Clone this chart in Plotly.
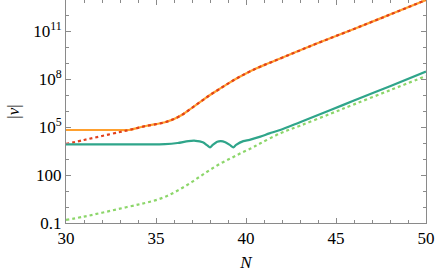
import plotly.graph_objects as go

# ---- data ----
N_orange = [30, 31, 32, 33, 33.5, 34, 34.5, 35, 35.5, 36, 36.5, 37, 37.5, 38, 38.5, 39, 39.5, 40, 40.5, 41, 41.5,
            42, 42.8, 44, 46, 48, 50]
v_orange = [6.5e4, 6.5e4, 6.5e4, 6.5e4, 6.5e4, 8.9e4, 1.2e5, 1.5e5, 2.0e5, 3.16e5, 6.3e5, 1.58e6, 4.0e6, 1.0e7,
            2.3e7, 5.2e7, 1.12e8, 2.24e8, 4.2e8, 7.4e8, 1.26e9, 2.14e9, 5.0e9, 1.78e10, 1.35e11, 1.07e12, 8.7e12]

N_red = [30, 31, 32, 33, 33.5, 34, 34.5, 35, 35.5, 36, 36.5, 37, 37.5, 38, 38.5, 39, 39.5, 40, 40.5, 41, 41.5,
         42, 42.8, 44, 46, 48, 50]
v_red = [8.7e3, 1.55e4, 2.75e4, 4.9e4, 6.5e4, 8.9e4, 1.2e5, 1.5e5, 2.0e5, 3.16e5, 6.3e5, 1.58e6, 4.0e6, 1.0e7,
         2.3e7, 5.2e7, 1.12e8, 2.24e8, 4.2e8, 7.4e8, 1.26e9, 2.14e9, 5.0e9, 1.78e10, 1.35e11, 1.07e12, 8.7e12]

N_teal = [30, 34, 35.5, 36.2, 36.8, 37.2, 37.6, 37.85, 38.0, 38.15, 38.4, 38.6, 38.85, 39.1, 39.3, 39.45, 39.85,
          40.2, 40.8, 41.3, 41.9, 43, 44.7, 46, 48, 50]
v_teal = [8.3e3, 8.3e3, 8.5e3, 1.0e4, 1.32e4, 1.38e4, 1.12e4, 7.1e3, 5.4e3, 7.6e3, 1.2e4, 1.32e4, 1.12e4, 7.6e3,
          5.4e3, 7.6e3, 1.32e4, 1.58e4, 2.5e4, 4.0e4, 6.5e4, 2.0e5, 1.15e6, 4.5e6, 3.55e7, 2.9e8]

N_green = [30, 31, 32, 33, 34, 34.5, 35, 35.5, 36, 36.5, 37, 37.5, 38, 38.6, 39.2, 39.7, 40.3, 40.8, 41.9, 43,
           44.7, 46, 48, 50]
v_green = [0.155, 0.25, 0.44, 0.79, 1.41, 1.9, 2.7, 4.3, 8.0, 16.5, 37, 89, 209, 537, 1175, 2290, 4790, 9550,
           4.0e4, 1.2e5, 6.8e5, 2.6e6, 2.0e7, 1.55e8]

y_tickvals = [0.1, 100, 1e5, 1e8, 1e11]
y_ticktext = ["0.1", "100", "10<sup>5</sup>", "10<sup>8</sup>", "10<sup>11</sup>"]
x_tickvals = [30, 35, 40, 45, 50]
y_minor = [1, 10, 1e3, 1e4, 1e6, 1e7, 1e9, 1e10, 1e12]

FONT = "Liberation Serif"
fig = go.Figure()
fig.add_trace(go.Scatter(x=N_orange, y=v_orange, mode="lines",
                         line=dict(color="#FFA02E", width=2.2, shape="spline", smoothing=1.0)))
fig.add_trace(go.Scatter(x=N_red, y=v_red, mode="lines",
                         line=dict(color="#E2401C", width=2.2, dash="dot", shape="spline", smoothing=1.0)))
fig.add_trace(go.Scatter(x=N_teal, y=v_teal, mode="lines",
                         line=dict(color="#2FA58A", width=2.2, shape="spline", smoothing=0.8)))
fig.add_trace(go.Scatter(x=N_green, y=v_green, mode="lines",
                         line=dict(color="#8CD66A", width=2.2, dash="dot", shape="spline", smoothing=1.0)))

axis_common = dict(showgrid=False, zeroline=False, showline=True, linecolor="#8a8a8a", linewidth=1,
                   mirror="allticks", ticks="inside", ticklen=5, tickcolor="#8a8a8a", tickwidth=1,
                   automargin=False,
                   tickfont=dict(family=FONT, size=17, color="black"))
fig.update_xaxes(range=[30, 50], tickvals=x_tickvals, ticktext=[str(v) for v in x_tickvals],
                 minor=dict(dtick=1, ticks="inside", ticklen=3, tickcolor="#8a8a8a"),
                 title=dict(text="<i>N</i>", font=dict(family=FONT, size=17, color="black"), standoff=8),
                 **axis_common)
fig.update_yaxes(type="log", range=[-1, 12.94], tickvals=y_tickvals, ticktext=y_ticktext,
                 minor=dict(tickvals=y_minor, ticks="inside", ticklen=3, tickcolor="#8a8a8a"),
                 title=dict(text="|<i>v</i>|", font=dict(family=FONT, size=17, color="black"), standoff=9),
                 **axis_common)
fig.update_layout(width=436, height=274, margin=dict(l=66, r=10, t=0, b=51, autoexpand=False),
                  font=dict(family=FONT, size=17, color="black"),
                  plot_bgcolor="white", paper_bgcolor="white", showlegend=False)
fig.write_html("out.html", config={"displayModeBar": False},
               post_script="document.body.style.margin='0';document.body.style.overflow='hidden';")
